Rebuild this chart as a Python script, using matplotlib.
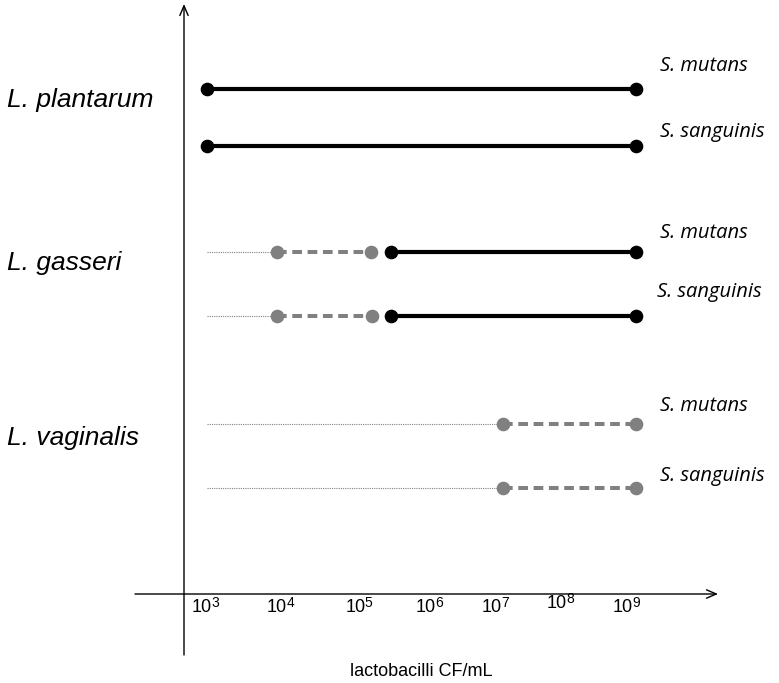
import matplotlib
matplotlib.use("Agg")
import matplotlib.pyplot as plt

plt.rcParams['font.family'] = ['Liberation Sans', 'DejaVu Sans']

# lactobacillus species and the streptococci they were tested against
species = ['L. plantarum', 'L. gasseri', 'L. vaginalis']
targets = ['S. mutans', 'S. sanguinis', 'S. mutans', 'S. sanguinis',
           'S. mutans', 'S. sanguinis']

# log10 of lactobacilli CF/mL
exponents = [3, 4, 5, 6, 7, 8, 9]
tested_from = [3.0, 3.0, 3.0, 3.0, 3.0, 3.0]
# full inhibition range (black, solid)
full_lo = [3.0, 3.0, 5.63, 5.63, None, None]
full_hi = [9.13, 9.13, 9.13, 9.13, None, None]
# partial inhibition range (grey, dashed)
part_lo = [None, None, 4.0, 4.0, 7.23, 7.23]
part_hi = [None, None, 5.34, 5.36, 9.13, 9.13]

# layout (pixel rows from the top of the figure)
row_y = [89, 146, 252, 316, 424, 488]
species_y = [100, 263, 438]
target_y = [66, 132, 233, 292, 406, 476]
tick_pos = [3.0, 4.07, 5.19, 6.19, 7.14, 8.07, 9.01]
tick_y = [608, 608, 608, 608, 608, 604, 608]

W, H = 779, 683
px = 70.0   # pixels per decade
x0 = 207.0  # pixel of 10^3


def to_x(p):
    return 3 + (p - x0) / px


fig = plt.figure(figsize=(W / 100, H / 100), dpi=100)
ax = fig.add_axes([0, 0, 1, 1])
ax.set_xlim(to_x(0), to_x(W))
ax.set_ylim(H, 0)
ax.axis('off')

grey = '#808080'

for i, y in enumerate(row_y):
    if part_lo[i] is not None:
        ax.plot([tested_from[i], part_lo[i]], [y, y], color=grey, lw=0.8,
                ls=(0, (1, 1)))
        ax.plot([part_lo[i], part_hi[i]], [y, y], color=grey, lw=2.9,
                ls=(0, (2.4, 1.4)), marker='o', ms=8.8)
    if full_lo[i] is not None:
        ax.plot([full_lo[i], full_hi[i]], [y, y], color='black', lw=3.0,
                marker='o', ms=8.8, solid_capstyle='butt')
    ax.text(to_x(660 if i != 3 else 657), target_y[i], targets[i],
            family='Open Sans', style='italic', fontsize=14.5,
            ha='left', va='center')

for name, y in zip(species, species_y):
    ax.text(to_x(7), y, name, style='italic', fontsize=19,
            ha='left', va='center')

# axes with arrowheads
ax.annotate('', xy=(to_x(718), 594), xytext=(to_x(135), 594),
            arrowprops=dict(arrowstyle='->,head_length=0.7,head_width=0.3',
                            lw=1, color='black', shrinkA=0, shrinkB=0))
ax.annotate('', xy=(to_x(184), 4), xytext=(to_x(184), 655),
            arrowprops=dict(arrowstyle='->,head_length=0.7,head_width=0.3',
                            lw=1, color='black', shrinkA=0, shrinkB=0))

# tick labels: "10" with a raised exponent
for e, xp, yp in zip(exponents, tick_pos, tick_y):
    ax.text(xp - 0.07, yp, '10', fontsize=13, ha='center', va='center')
    ax.text(xp + 0.065, yp - 5, str(e), fontsize=10, ha='left', va='center')

ax.text(to_x(421), 672, 'lactobacilli CF/mL', fontsize=13,
        ha='center', va='center')

fig.savefig('out.png', dpi=100)
